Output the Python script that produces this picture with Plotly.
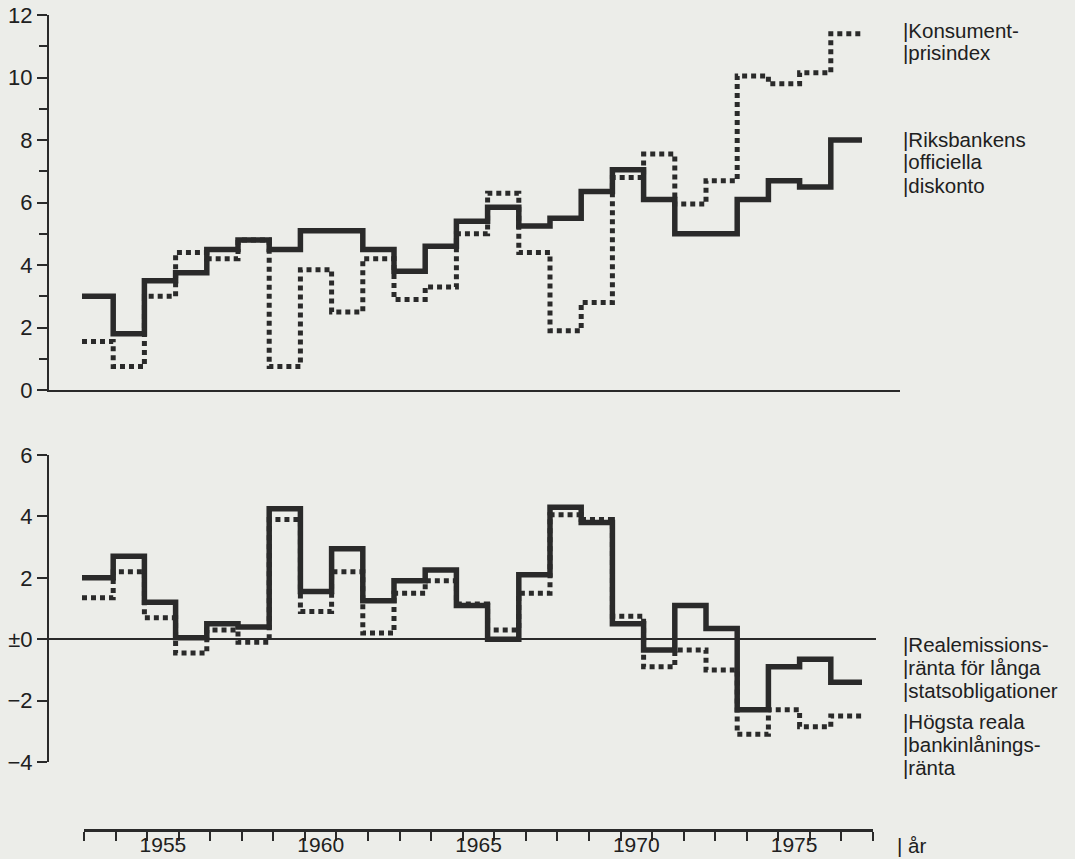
import plotly.graph_objects as go

# ---------------- data ----------------
years = list(range(1953, 1978))
diskonto = [3.0, 1.8, 3.5, 3.75, 4.5, 4.8, 4.5, 5.1, 5.1, 4.5,
            3.8, 4.6, 5.4, 5.85, 5.25, 5.5, 6.35, 7.05, 6.1, 5.0,
            5.0, 6.1, 6.7, 6.5, 8.0]
kpi = [1.55, 0.75, 3.0, 4.4, 4.2, 4.8, 0.75, 3.85, 2.5, 4.2,
       2.9, 3.3, 5.0, 6.3, 4.4, 1.9, 2.8, 6.8, 7.55, 5.95,
       6.7, 10.05, 9.8, 10.15, 11.4]
realemission = [2.0, 2.7, 1.2, 0.05, 0.5, 0.4, 4.25, 1.55, 2.95, 1.25,
                1.9, 2.25, 1.1, 0.0, 2.1, 4.3, 3.8, 0.5, -0.35, 1.1,
                0.35, -2.3, -0.9, -0.65, -1.4]
bankinlaning = [1.35, 2.2, 0.7, -0.45, 0.3, -0.1, 3.9, 0.9, 2.2, 0.2,
                1.5, 1.9, 1.15, 0.3, 1.5, 4.05, 3.9, 0.75, -0.9, -0.35,
                -1.0, -3.1, -2.3, -2.85, -2.5]

top_ticks = [0, 2, 4, 6, 8, 10, 12]
top_ticktext = ["0", "2", "4", "6", "8", "10", "12"]
bot_ticks = [-4, -2, 0, 2, 4, 6]
bot_ticktext = ["\u22124", "\u22122", "\u00b10", "2", "4", "6"]
year_labels = [1955, 1960, 1965, 1970, 1975]

legend_top = [["Konsument-", "prisindex"],
              ["Riksbankens", "officiella", "diskonto"]]
legend_bot = [["Realemissions-", "ränta för långa", "statsobligationer"],
              ["Högsta reala", "bankinlånings-", "ränta"]]

# ---------------- layout geometry ----------------
W, H = 1075, 859
BG = "#ECEDE9"
INK = "#2A2A2A"
TXT = "#202020"
FONT = "Liberation Sans, Arial, Helvetica, sans-serif"
FS = 22        # y tick labels
FS_YEAR = 21   # year labels
FS_LEG = 20.5  # side labels

PX0 = 82.0       # pixel of start of first year
PPY = 31.2       # pixels per year
AX_X = 49.0      # y-axis line


def yr(px):
    return years[0] + (px - PX0) / PPY


def step(vals):
    xs = years + [years[-1] + 1]
    ys = vals + [vals[-1]]
    return xs, ys


fig = go.Figure()

SOLID = dict(color=INK, width=5.5, shape="hv")
DOTTED = dict(color=INK, width=5, shape="hv", dash="5px,4px")

x, y = step(diskonto)
fig.add_trace(go.Scatter(x=x, y=y, mode="lines", line=SOLID,
                         xaxis="x", yaxis="y", hoverinfo="skip"))
x, y = step(kpi)
fig.add_trace(go.Scatter(x=x, y=y, mode="lines", line=DOTTED,
                         xaxis="x", yaxis="y", hoverinfo="skip"))
x, y = step(realemission)
fig.add_trace(go.Scatter(x=x, y=y, mode="lines", line=SOLID,
                         xaxis="x2", yaxis="y2", hoverinfo="skip"))
x, y = step(bankinlaning)
fig.add_trace(go.Scatter(x=x, y=y, mode="lines", line=DOTTED,
                         xaxis="x2", yaxis="y2", hoverinfo="skip"))

# invisible traces to host the separate year axis
fig.add_trace(go.Scatter(x=[years[0], years[-1] + 1], y=[None, None], mode="lines",
                         xaxis="x3", yaxis="y2", hoverinfo="skip", showlegend=False))
fig.add_trace(go.Scatter(x=[years[0], years[-1] + 1], y=[None, None], mode="lines",
                         xaxis="x4", yaxis="y2", hoverinfo="skip", showlegend=False))

tickfont = dict(family=FONT, size=FS, color=TXT)

fig.update_layout(
    width=W, height=H,
    margin=dict(l=0, r=0, t=0, b=0, pad=0, autoexpand=False),
    paper_bgcolor=BG, plot_bgcolor="rgba(0,0,0,0)",
    showlegend=False,
    xaxis=dict(domain=[AX_X / W, 900 / W], range=[yr(AX_X), yr(900)], anchor="y",
               showline=True, linecolor=INK, linewidth=2, showgrid=False, zeroline=False,
               ticks="", showticklabels=False, fixedrange=True, automargin=False),
    yaxis=dict(domain=[1 - 390 / H, 1 - 15 / H], range=[0, 12], anchor="x",
               showline=True, linecolor=INK, linewidth=2, showgrid=False, zeroline=False,
               tickvals=top_ticks, ticktext=top_ticktext, ticks="outside", ticklen=10,
               tickwidth=2, tickcolor=INK, tickfont=tickfont, automargin=False,
               minor=dict(dtick=1, ticks="outside", ticklen=8, tickwidth=2, tickcolor=INK,
                          showgrid=False)),
    xaxis2=dict(domain=[AX_X / W, 876 / W], range=[yr(AX_X), yr(876)], anchor="y2",
                showline=False, showgrid=False, zeroline=False, ticks="",
                showticklabels=False, fixedrange=True, automargin=False),
    yaxis2=dict(domain=[1 - 762 / H, 1 - 455 / H], range=[-4, 6], anchor="x2",
                showline=True, linecolor=INK, linewidth=2, showgrid=False,
                zeroline=True, zerolinecolor=INK, zerolinewidth=1.6, automargin=False,
                tickvals=bot_ticks, ticktext=bot_ticktext, ticks="outside", ticklen=10,
                tickwidth=2, tickcolor=INK, tickfont=tickfont),
    xaxis3=dict(domain=[84 / W, 873 / W], range=[years[0], years[-1] + 1],
                anchor="free", position=1 - 830 / H, automargin=False,
                showline=True, linecolor=INK, linewidth=2.5, showgrid=False, zeroline=False,
                tickvals=years + [years[-1] + 1], ticks="outside", ticklen=9, tickwidth=2,
                tickcolor=INK, showticklabels=False),
    xaxis4=dict(domain=[84 / W, 873 / W], range=[years[0], years[-1] + 1],
                anchor="free", position=1 - 830 / H, overlaying="x3", automargin=False,
                showline=False, showgrid=False, zeroline=False,
                tickvals=[v + 0.5 for v in year_labels], ticktext=[str(v) for v in year_labels],
                ticks="", tickfont=dict(family=FONT, size=FS_YEAR, color=TXT)),
)

annotations = []


def add_block(lines, centers):
    for txt, cy in zip(lines, centers):
        annotations.append(dict(text="|" + txt, x=902 / W, y=1 - cy / H, xref="paper", yref="paper",
                                xanchor="left", yanchor="middle", showarrow=False, borderpad=0,
                                font=dict(family=FONT, size=FS_LEG, color=TXT)))


add_block(legend_top[0], [30, 53])
add_block(legend_top[1], [139, 162, 185])
add_block(legend_bot[0], [644, 667, 690])
add_block(legend_bot[1], [721, 744, 767])
annotations.append(dict(text="| år", x=896 / W, y=1 - 845 / H, xref="paper", yref="paper",
                        xanchor="left", yanchor="middle", showarrow=False, borderpad=0,
                        font=dict(family=FONT, size=FS_LEG, color=TXT)))
fig.update_layout(annotations=annotations)

fig.write_html("out.html", config={"displayModeBar": False, "staticPlot": True})

# remove the browser's default page margin so the figure sits at the window's corner
with open("out.html", "r", encoding="utf-8") as f:
    html = f.read()
html = html.replace("<head>", "<head><style>html,body{margin:0;padding:0;background:%s;overflow:hidden}</style>" % BG, 1)
with open("out.html", "w", encoding="utf-8") as f:
    f.write(html)
